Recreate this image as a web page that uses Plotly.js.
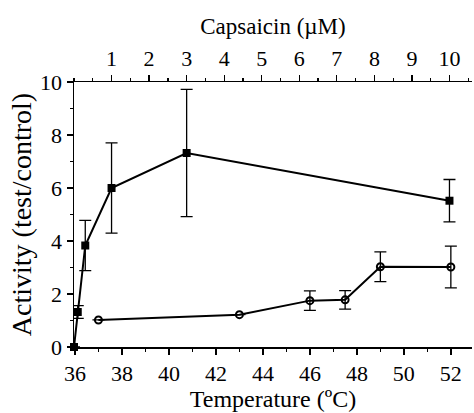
<!DOCTYPE html>
<html>
<head>
<meta charset="utf-8">
<script src="https://cdn.plot.ly/plotly-3.0.1.min.js"></script>
<style>html,body{margin:0;padding:0;background:#fff;}#chart{width:474px;height:413px;}</style>
</head>
<body>
<div id="chart"></div>
<script>
// Capsaicin series (top axis, filled squares)
var capsX = [0, 0.1, 0.3, 1, 3, 10];
var capsY = [0, 1.32, 3.83, 6.0, 7.32, 5.52];
var capsErr = [null, 0.24, 0.95, 1.7, 2.4, 0.8];

// Temperature series (bottom axis, open circles)
var tempX = [37, 43, 46, 47.5, 49, 52];
var tempY = [1.02, 1.22, 1.75, 1.78, 3.03, 3.02];
var tempErr = [null, null, 0.37, 0.35, 0.56, 0.79];

var bottomTicks = [36, 38, 40, 42, 44, 46, 48, 50, 52];
var topTicks = [1, 2, 3, 4, 5, 6, 7, 8, 9, 10];
var yTicks = [0, 2, 4, 6, 8, 10];

var FAM = '"Liberation Serif", "Times New Roman", serif';
function f(size) { return {family: FAM, size: size, color: '#000'}; }

var traces = [
  {
    x: tempX, y: tempY, xaxis: 'x', yaxis: 'y', type: 'scatter', mode: 'lines+markers',
    line: {color: '#000', width: 2},
    marker: {symbol: 'circle-open', size: 7, color: '#000', line: {width: 2, color: '#000'}},
    error_y: {type: 'data', array: tempErr, visible: true, color: '#000', thickness: 1.3, width: 6},
    cliponaxis: false, showlegend: false, hoverinfo: 'none'
  },
  {
    x: capsX, y: capsY, xaxis: 'x2', yaxis: 'y', type: 'scatter', mode: 'lines+markers',
    line: {color: '#000', width: 2},
    marker: {symbol: 'square', size: 8, color: '#000'},
    error_y: {type: 'data', array: capsErr, visible: true, color: '#000', thickness: 1.3, width: 6},
    cliponaxis: false, showlegend: false, hoverinfo: 'none'
  }
];

var layout = {
  width: 474, height: 413,
  margin: {l: 74, r: 2, t: 82, b: 66, pad: 0},
  paper_bgcolor: '#fff', plot_bgcolor: '#fff',
  font: f(22),
  showlegend: false,
  xaxis: {
    range: [35.96, 52.9], showgrid: false, zeroline: false,
    showline: true, linecolor: '#000', linewidth: 1.5,
    ticks: 'outside', ticklen: 6, tickwidth: 1.3, tickcolor: '#000',
    tickmode: 'array', tickvals: bottomTicks, ticktext: bottomTicks.map(String),
    minor: {tickmode: 'linear', tick0: 36, dtick: 1, ticks: 'outside', ticklen: 3, tickwidth: 1.3, tickcolor: '#000'},
    tickfont: f(22),
    title: {text: 'Temperature (ºC)', font: f(24), standoff: 1}
  },
  xaxis2: {
    overlaying: 'x', side: 'top', anchor: 'y',
    range: [0, 10.6], showgrid: false, zeroline: false,
    showline: true, linecolor: '#000', linewidth: 1.5,
    ticks: 'outside', ticklen: 6, tickwidth: 1.3, tickcolor: '#000',
    tickmode: 'array', tickvals: topTicks, ticktext: topTicks.map(String),
    minor: {tickmode: 'linear', tick0: 0, dtick: 0.5, ticks: 'outside', ticklen: 3, tickwidth: 1.3, tickcolor: '#000'},
    tickfont: f(22),
    title: {text: 'Capsaicin (µM)', font: f(23), standoff: 4}
  },
  yaxis: {
    range: [0, 10], showgrid: false, zeroline: false,
    showline: true, linecolor: '#000', linewidth: 1.5,
    ticks: 'outside', ticklen: 6, tickwidth: 1.3, tickcolor: '#000',
    tickmode: 'array', tickvals: yTicks, ticktext: yTicks.map(String),
    minor: {tickmode: 'linear', tick0: 0, dtick: 1, ticks: 'outside', ticklen: 3, tickwidth: 1.3, tickcolor: '#000'},
    tickfont: f(22),
    title: {text: 'Activity (test/control)', font: f(28), standoff: 0}
  }
};

Plotly.newPlot('chart', traces, layout, {displayModeBar: false, staticPlot: true});
</script>
</body>
</html>
